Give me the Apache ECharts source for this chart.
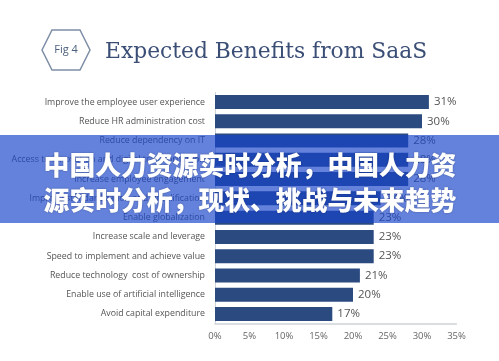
<!DOCTYPE html>
<html>
<head>
<meta charset="utf-8">
<script src="https://cdn.jsdelivr.net/npm/echarts@6/dist/echarts.min.js"></script>
<style>
html,body{margin:0;padding:0;background:#fff;}
#main{width:499px;height:361px;}
</style>
</head>
<body>
<div id="main"></div>
<script>
const categories = [
  'Improve the employee user experience',
  'Reduce HR administration cost',
  'Reduce dependency on IT',
  'Access to innovation and digital transformation',
  'Increase employee engagement',
  'Improve standardization and simplification',
  'Enable globalization',
  'Increase scale and leverage',
  'Speed to implement and achieve value',
  'Reduce technology  cost of ownership',
  'Enable use of artificial intelligence',
  'Avoid capital expenditure'
];
const values = [31, 30, 28, 28, 28, 24, 23, 23, 23, 21, 20, 17];
const xTicks = [0, 5, 10, 15, 20, 25, 30, 35];
const titleText = 'Expected Benefits from SaaS';
const badgeText = 'Fig 4';
const bannerLines = ['中国人力资源实时分析，中国人力资', '源实时分析，现状、挑战与未来趋势'];

const chart = echarts.init(document.getElementById('main'));
chart.setOption({
  animation: false,
  backgroundColor: '#ffffff',
  grid: {left: 215, right: 42.5, top: 92.4, bottom: 37.4, containLabel: false},
  xAxis: {
    type: 'value', min: xTicks[0], max: xTicks[xTicks.length - 1], interval: 5,
    axisLine: {show: true, lineStyle: {color: '#cfd3d8', width: 1.5}},
    axisTick: {show: false},
    splitLine: {show: false},
    axisLabel: {formatter: '{value}%', color: '#666', fontSize: 9.5, fontFamily: 'Open Sans', margin: 8}
  },
  yAxis: {
    type: 'category', data: categories, inverse: true,
    axisLine: {show: true, lineStyle: {color: '#cfd3d8', width: 1}},
    axisTick: {show: false},
    axisLabel: {color: '#555', fontSize: 8.8, fontFamily: 'Open Sans', margin: 10}
  },
  series: [{
    type: 'bar', data: values, barWidth: 14,
    itemStyle: {color: '#2b4a80'},
    label: {show: true, position: 'right', formatter: '{c}%', color: '#555', fontSize: 11.5, fontFamily: 'Open Sans', distance: 5}
  }],
  graphic: [
    {type: 'polygon', shape: {points: [[42,50],[52,30],[80,30],[90,50],[80,70],[52,70]]},
     style: {fill: 'none', stroke: '#7d8ea5', lineWidth: 1.5}},
    {type: 'text', x: 66, y: 50, style: {text: badgeText, fill: '#4b5f7e', font: '11px "Open Sans"', textAlign: 'center', textVerticalAlign: 'middle'}},
    {type: 'text', x: 105, y: 52, style: {text: titleText, fill: '#3a4e76', font: '21.8px "DejaVu Serif"', textAlign: 'left', textVerticalAlign: 'middle'}},
    {type: 'rect', z: 100, shape: {x: 0, y: 135, width: 499, height: 88},
     style: {fill: 'rgba(24,69,203,0.67)'}},
    {type: 'text', z: 101, x: 250, y: 165, style: {text: bannerLines[0], fill: '#ffffff', font: '900 25.8px "Noto Sans CJK SC"', textAlign: 'center', textVerticalAlign: 'middle', textShadowColor: 'rgba(0,0,0,0.3)', textShadowBlur: 2}},
    {type: 'text', z: 101, x: 250, y: 200, style: {text: bannerLines[1], fill: '#ffffff', font: '900 25.8px "Noto Sans CJK SC"', textAlign: 'center', textVerticalAlign: 'middle', textShadowColor: 'rgba(0,0,0,0.3)', textShadowBlur: 2}}
  ]
});
</script>
</body>
</html>
